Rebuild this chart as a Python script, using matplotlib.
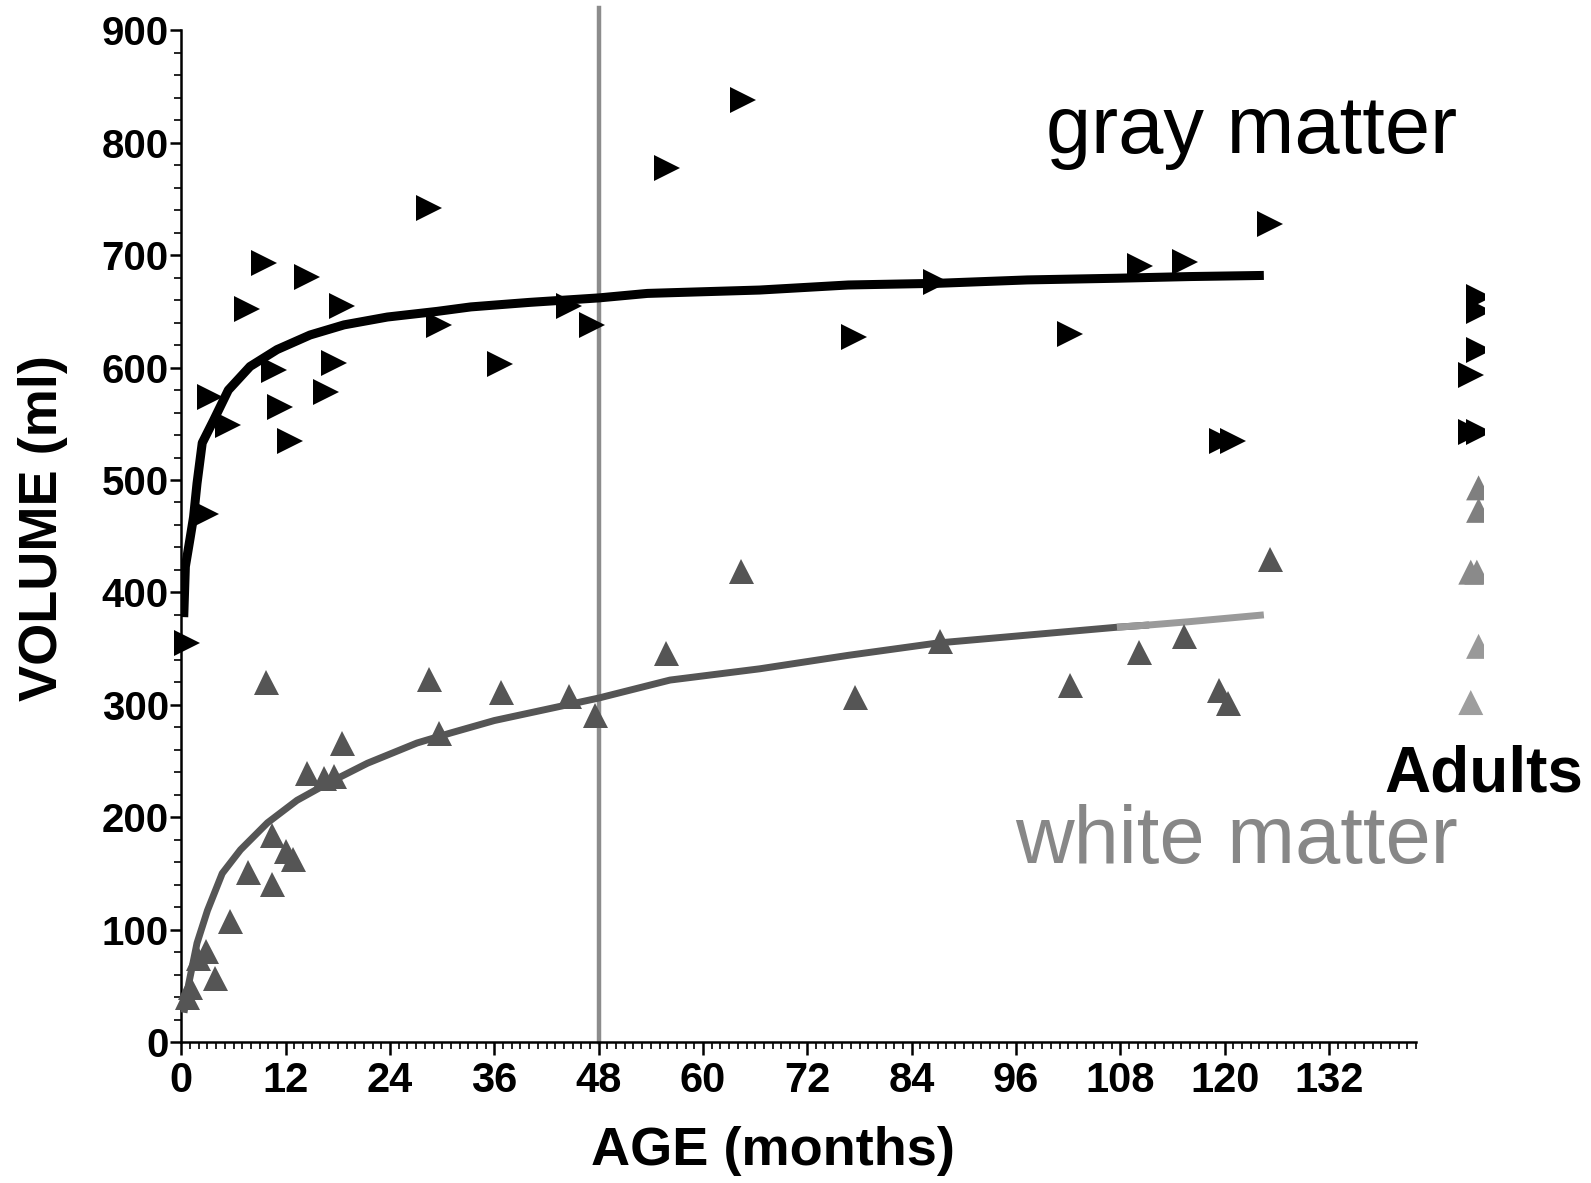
import matplotlib
matplotlib.use("Agg")
import matplotlib.pyplot as plt
from matplotlib.ticker import MultipleLocator
from matplotlib.patches import Rectangle

plt.rcParams['font.family'] = ['Liberation Sans', 'DejaVu Sans']

# gray matter volume, children (age in months, volume in ml)
gm_age = [0.7, 2.8, 3.3, 5.4, 7.6, 9.5, 10.6, 11.4, 12.5, 14.5, 16.6, 17.5, 18.5,
          28.5, 29.6, 36.6, 44.6, 47.2, 55.8, 64.6, 77.4, 86.8, 102.2, 110.2,
          115.4, 119.7, 121.0, 125.2]
gm_vol = [355, 470, 574, 549, 652, 693, 598, 565, 535, 681, 578, 604, 655,
          742, 638, 603, 655, 638, 778, 838, 627, 676, 630, 690, 694, 535,
          535, 728]

# white matter volume, children
wm_age = [0.6, 1.0, 1.9, 2.8, 3.9, 5.6, 7.7, 10.4, 10.4, 12.0, 12.8, 14.5, 16.4,
          17.5, 18.5, 9.7, 28.5, 29.6, 36.8, 44.6, 47.6, 55.7, 64.4, 77.5,
          87.2, 102.2, 110.1, 115.3, 119.3, 120.4, 125.2]
wm_vol = [40, 49, 75, 81, 57, 108, 151, 184, 141, 170, 163, 239, 235,
          237, 266, 320, 323, 275, 311, 308, 291, 346, 419, 307,
          357, 318, 347, 361, 313, 302, 430]

# adults, drawn past the end of the age axis
adult_gm_age = [149.2, 149.2, 149.2, 148.3, 148.3, 149.2]
adult_gm_vol = [663, 650, 616, 593, 543, 543]
adult_wm_age = [149.2, 149.2, 148.3, 149.0, 149.2, 148.3]
adult_wm_vol = [493, 473, 418, 418, 352, 302]
adult_wm_col = ['#7f7f7f', '#7f7f7f', '#8a8a8a', '#8a8a8a', '#999999', '#9e9e9e']

# fitted growth curves
gm_fit_age = [0.27, 0.46, 1.0, 1.4, 1.8, 2.4, 3.7, 5.4, 7.9, 11.0, 14.8, 18.7, 23.7,
              29.4, 33.3, 40, 48, 53.6, 66.5, 76.7, 87, 97.3, 107.6, 116, 124.5]
gm_fit_vol = [378, 423, 448, 467, 497, 533, 553, 580, 601, 616, 629, 638, 645,
              650, 654, 658, 662, 666, 669, 673.5, 675, 678, 679.5, 681, 682]
wm_fit_age = [0.3, 0.85, 1.8, 3.0, 4.7, 6.8, 9.9, 13.3, 16.8, 21.4, 27.1, 31, 36,
              42, 48, 56.2, 66.5, 76.7, 87, 97.3, 107.6, 111.3, 116, 124.5]
wm_fit_vol = [26, 52, 88, 117, 150, 171, 195, 215, 230, 248, 266, 275, 286,
              296, 306, 322, 332, 344, 355, 362, 369, 371, 374, 380]
wm_light_from = 107.6  # curve turns light gray here
wm_dark_to = 111.3

cutoff_age = 48
x_ticks = list(range(0, 133, 12))
y_ticks = list(range(0, 901, 100))

fig = plt.figure(figsize=(15.91, 11.83), dpi=100)
ax = fig.add_axes([0.114, 0.1192, 0.776, 0.8551])

ax.set_xlim(0, 142)
ax.set_ylim(0, 900)

# 48 month marker line, runs a bit above the axis
ax.axvline(cutoff_age, ymin=0, ymax=1.022, color='#8c8c8c', lw=3.2, clip_on=False, zorder=1)

# curves
dark_a = [a for a in wm_fit_age if a <= wm_dark_to]
dark_v = [v for a, v in zip(wm_fit_age, wm_fit_vol) if a <= wm_dark_to]
light_a = [a for a in wm_fit_age if a >= wm_light_from]
light_v = [v for a, v in zip(wm_fit_age, wm_fit_vol) if a >= wm_light_from]
ax.plot(dark_a, dark_v, color='#555555', lw=5, solid_capstyle='butt',
        solid_joinstyle='round', zorder=3)
ax.plot(light_a, light_v, color='#9a9a9a', lw=5, solid_capstyle='butt', zorder=3)
ax.plot(gm_fit_age, gm_fit_vol, color='black', lw=6.5, solid_capstyle='butt',
        solid_joinstyle='round', zorder=3)

# points
ax.plot(wm_age, wm_vol, ls='none', marker='^', ms=18, mew=0, color='#555555',
        clip_on=False, zorder=4)
ax.plot(gm_age, gm_vol, ls='none', marker='>', ms=19, mew=0, color='black',
        clip_on=False, zorder=4)

clip_rect = Rectangle((0, 0), 0.933, 1, transform=fig.transFigure)
adults_gm = ax.plot(adult_gm_age, adult_gm_vol, ls='none', marker='>', ms=19, mew=0,
                    color='black', zorder=4)[0]
adults_gm.set_clip_path(clip_rect)
adults_wm = ax.scatter(adult_wm_age, adult_wm_vol, marker='^', s=18 ** 2, c=adult_wm_col,
                       linewidths=0, zorder=4)
adults_wm.set_clip_path(clip_rect)

# axes styling
for side in ['top', 'right']:
    ax.spines[side].set_visible(False)
ax.spines['left'].set_linewidth(1.8)
ax.spines['bottom'].set_linewidth(1.8)

ax.set_xticks(x_ticks)
ax.set_yticks(y_ticks)
ax.xaxis.set_minor_locator(MultipleLocator(1))
ax.yaxis.set_minor_locator(MultipleLocator(20))
ax.tick_params(axis='x', which='major', direction='out', length=9, width=1.8, pad=5,
               labelsize=30)
ax.tick_params(axis='x', which='minor', direction='out', length=5, width=1.2)
ax.tick_params(axis='y', which='major', direction='out', length=8, width=1.8, pad=1,
               labelsize=29)
ax.tick_params(axis='y', which='minor', direction='out', length=5, width=1.2)
for lab in ax.get_xticklabels() + ax.get_yticklabels():
    lab.set_fontweight('bold')

fig.text(0.027, 0.554, 'VOLUME (ml)', rotation=90, ha='center', va='center',
         fontsize=39, fontweight='bold')
fig.text(0.486, 0.027, 'AGE (months)', ha='center', va='center',
         fontsize=39, fontweight='bold')

ax.text(99.4, 791, 'gray matter', fontsize=58.5, color='black', ha='left',
        va='baseline', clip_on=False)
ax.text(95.9, 159, 'white matter', fontsize=58.5, color='#878787', ha='left',
        va='baseline', clip_on=False)
fig.text(0.995, 0.331, 'Adults', fontsize=46, fontweight='bold', ha='right',
         va='baseline')

fig.savefig('out.png', dpi=100)
